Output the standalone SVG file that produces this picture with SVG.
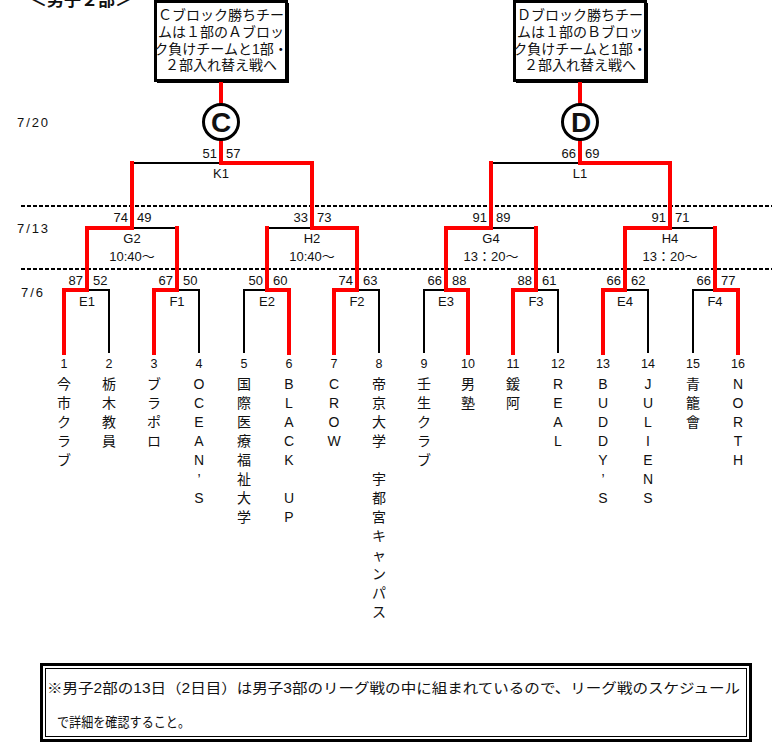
<svg xmlns="http://www.w3.org/2000/svg" width="772" height="744" viewBox="0 0 772 744">
<style>
text{font-family:"Liberation Sans","Noto Sans CJK JP",sans-serif;fill:#111}
.sc{font-size:13px}
.lb{font-size:13px;text-anchor:middle}
.num{font-size:12.5px;text-anchor:middle}
.nm{font-size:14px;text-anchor:middle}
.bx{font-size:14px;text-anchor:middle}
.dt{font-size:13px}
.blk{fill:none;stroke:#000;stroke-width:2}
.red{fill:none;stroke:#f00;stroke-width:4;stroke-linejoin:miter;stroke-linecap:square}
.dash{fill:none;stroke:#000;stroke-width:2;stroke-dasharray:4 2}
</style>
<rect width="772" height="744" fill="#fff"/>
<g id="title"><text x="30" y="6" style="font-size:17px;font-weight:bold">＜男子２部＞</text></g>
<g id="dates">
<text class="dt" x="17" y="127" textLength="31">7/20</text>
<text class="dt" x="17" y="233" textLength="31">7/13</text>
<text class="dt" x="21" y="297" textLength="22">7/6</text>
</g>
<g id="separators">
<line class="dash" x1="21" y1="206" x2="772" y2="206"/>
<line class="dash" x1="21" y1="269" x2="772" y2="269"/>
</g>
<g id="boxC">
<rect x="155.5" y="1.5" width="131" height="79" fill="#fff" stroke="#000" stroke-width="3"/>
<path d="M288 3V82H157" fill="none" stroke="#000" stroke-width="2"/>
<text class="bx" x="221" y="20">Ｃブロック勝ちチー</text>
<text class="bx" x="221" y="37">ムは１部のＡブロッ</text>
<text class="bx" x="221" y="54">ク負けチームと1部・</text>
<text class="bx" x="221" y="70">２部入れ替え戦へ</text>
</g>
<g id="boxD">
<rect x="514.5" y="1.5" width="131" height="79" fill="#fff" stroke="#000" stroke-width="3"/>
<path d="M647 3V82H516" fill="none" stroke="#000" stroke-width="2"/>
<text class="bx" x="580" y="20">Ｄブロック勝ちチー</text>
<text class="bx" x="580" y="37">ムは１部のＢブロッ</text>
<text class="bx" x="580" y="54">ク負けチームと1部・</text>
<text class="bx" x="580" y="70">２部入れ替え戦へ</text>
</g>
<g id="connectors">
<path class="blk" d="M64 353V290H109V353M154 353V290H199V353M244 353V290H289V353M334 353V290H379V353M424 353V290H468V353M513 353V290H558V353M603 353V290H648V353M693 353V290H738V353M87 228H177M267 228H357M446 228H536M625 228H715M132 163H312M491 163H670"/>
<path class="red" d="M64 353V290H87V228H132V163"/>
<path class="red" d="M154 353V290H177V228"/>
<path class="red" d="M289 353V290H267V228"/>
<path class="red" d="M334 353V290H357V228H312V163H221V141"/>
<path class="red" d="M221 103V84"/>
<path class="red" d="M468 353V290H446V228H491V163"/>
<path class="red" d="M513 353V290H536V228"/>
<path class="red" d="M603 353V290H625V228H670V163H580V141"/>
<path class="red" d="M580 103V84"/>
<path class="red" d="M738 353V290H715V228"/>
</g>
<g id="circleC">
<circle cx="221" cy="122" r="17.5" fill="#fff" stroke="#000" stroke-width="3"/>
<text x="221" y="132" style="font-size:28px;font-weight:bold;text-anchor:middle">C</text>
</g>
<g id="circleD">
<circle cx="580" cy="122" r="17.5" fill="#fff" stroke="#000" stroke-width="3"/>
<text x="581" y="132" style="font-size:28px;font-weight:bold;text-anchor:middle">D</text>
</g>
<g id="K1"><text class="sc" x="217" y="158" text-anchor="end">51</text><text class="sc" x="226" y="158">57</text><text class="lb" x="221" y="178">K1</text></g>
<g id="L1"><text class="sc" x="576" y="158" text-anchor="end">66</text><text class="sc" x="585" y="158">69</text><text class="lb" x="580" y="178">L1</text></g>
<g id="G2"><text class="sc" x="128" y="222" text-anchor="end">74</text><text class="sc" x="137" y="222">49</text><text class="lb" x="132" y="243">G2</text><text class="lb" x="132" y="261">10:40～</text></g>
<g id="H2"><text class="sc" x="308" y="222" text-anchor="end">33</text><text class="sc" x="317" y="222">73</text><text class="lb" x="312" y="243">H2</text><text class="lb" x="312" y="261">10:40～</text></g>
<g id="G4"><text class="sc" x="487" y="222" text-anchor="end">91</text><text class="sc" x="496" y="222">89</text><text class="lb" x="491" y="243">G4</text><text class="lb" x="491" y="261">13：20～</text></g>
<g id="H4"><text class="sc" x="666" y="222" text-anchor="end">91</text><text class="sc" x="675" y="222">71</text><text class="lb" x="670" y="243">H4</text><text class="lb" x="670" y="261">13：20～</text></g>
<g id="E1"><text class="sc" x="83" y="285" text-anchor="end">87</text><text class="sc" x="93" y="285">52</text><text class="lb" x="87" y="306">E1</text></g>
<g id="F1"><text class="sc" x="173" y="285" text-anchor="end">67</text><text class="sc" x="183" y="285">50</text><text class="lb" x="177" y="306">F1</text></g>
<g id="E2"><text class="sc" x="263" y="285" text-anchor="end">50</text><text class="sc" x="273" y="285">60</text><text class="lb" x="267" y="306">E2</text></g>
<g id="F2"><text class="sc" x="353" y="285" text-anchor="end">74</text><text class="sc" x="363" y="285">63</text><text class="lb" x="357" y="306">F2</text></g>
<g id="E3"><text class="sc" x="442" y="285" text-anchor="end">66</text><text class="sc" x="452" y="285">88</text><text class="lb" x="446" y="306">E3</text></g>
<g id="F3"><text class="sc" x="532" y="285" text-anchor="end">88</text><text class="sc" x="542" y="285">61</text><text class="lb" x="536" y="306">F3</text></g>
<g id="E4"><text class="sc" x="621" y="285" text-anchor="end">66</text><text class="sc" x="631" y="285">62</text><text class="lb" x="625" y="306">E4</text></g>
<g id="F4"><text class="sc" x="711" y="285" text-anchor="end">66</text><text class="sc" x="721" y="285">77</text><text class="lb" x="715" y="306">F4</text></g>
<g id="team1"><text class="num" x="64" y="368">1</text><text class="nm" x="64" y="389">今</text><text class="nm" x="64" y="408">市</text><text class="nm" x="64" y="427">ク</text><text class="nm" x="64" y="446">ラ</text><text class="nm" x="64" y="465">ブ</text></g>
<g id="team2"><text class="num" x="109" y="368">2</text><text class="nm" x="109" y="389">栃</text><text class="nm" x="109" y="408">木</text><text class="nm" x="109" y="427">教</text><text class="nm" x="109" y="446">員</text></g>
<g id="team3"><text class="num" x="154" y="368">3</text><text class="nm" x="154" y="389">ブ</text><text class="nm" x="154" y="408">ラ</text><text class="nm" x="154" y="427">ポ</text><text class="nm" x="154" y="446">ロ</text></g>
<g id="team4"><text class="num" x="199" y="368">4</text><text class="nm" x="199" y="389">O</text><text class="nm" x="199" y="408">C</text><text class="nm" x="199" y="427">E</text><text class="nm" x="199" y="446">A</text><text class="nm" x="199" y="465">N</text><text class="nm" x="199" y="484">’</text><text class="nm" x="199" y="503">S</text></g>
<g id="team5"><text class="num" x="244" y="368">5</text><text class="nm" x="244" y="389">国</text><text class="nm" x="244" y="408">際</text><text class="nm" x="244" y="427">医</text><text class="nm" x="244" y="446">療</text><text class="nm" x="244" y="465">福</text><text class="nm" x="244" y="484">祉</text><text class="nm" x="244" y="503">大</text><text class="nm" x="244" y="522">学</text></g>
<g id="team6"><text class="num" x="289" y="368">6</text><text class="nm" x="289" y="389">B</text><text class="nm" x="289" y="408">L</text><text class="nm" x="289" y="427">A</text><text class="nm" x="289" y="446">C</text><text class="nm" x="289" y="465">K</text><text class="nm" x="289" y="503">U</text><text class="nm" x="289" y="522">P</text></g>
<g id="team7"><text class="num" x="334" y="368">7</text><text class="nm" x="334" y="389">C</text><text class="nm" x="334" y="408">R</text><text class="nm" x="334" y="427">O</text><text class="nm" x="334" y="446">W</text></g>
<g id="team8"><text class="num" x="379" y="368">8</text><text class="nm" x="379" y="389">帝</text><text class="nm" x="379" y="408">京</text><text class="nm" x="379" y="427">大</text><text class="nm" x="379" y="446">学</text><text class="nm" x="379" y="484">宇</text><text class="nm" x="379" y="503">都</text><text class="nm" x="379" y="522">宮</text><text class="nm" x="379" y="541">キ</text><text class="nm" x="379" y="560">ャ</text><text class="nm" x="379" y="579">ン</text><text class="nm" x="379" y="598">パ</text><text class="nm" x="379" y="617">ス</text></g>
<g id="team9"><text class="num" x="424" y="368">9</text><text class="nm" x="424" y="389">壬</text><text class="nm" x="424" y="408">生</text><text class="nm" x="424" y="427">ク</text><text class="nm" x="424" y="446">ラ</text><text class="nm" x="424" y="465">ブ</text></g>
<g id="team10"><text class="num" x="468" y="368">10</text><text class="nm" x="468" y="389">男</text><text class="nm" x="468" y="408">塾</text></g>
<g id="team11"><text class="num" x="513" y="368">11</text><text class="nm" x="513" y="389">鍰</text><text class="nm" x="513" y="408">阿</text></g>
<g id="team12"><text class="num" x="558" y="368">12</text><text class="nm" x="558" y="389">R</text><text class="nm" x="558" y="408">E</text><text class="nm" x="558" y="427">A</text><text class="nm" x="558" y="446">L</text></g>
<g id="team13"><text class="num" x="603" y="368">13</text><text class="nm" x="603" y="389">B</text><text class="nm" x="603" y="408">U</text><text class="nm" x="603" y="427">D</text><text class="nm" x="603" y="446">D</text><text class="nm" x="603" y="465">Y</text><text class="nm" x="603" y="484">’</text><text class="nm" x="603" y="503">S</text></g>
<g id="team14"><text class="num" x="648" y="368">14</text><text class="nm" x="648" y="389">J</text><text class="nm" x="648" y="408">U</text><text class="nm" x="648" y="427">L</text><text class="nm" x="648" y="446">I</text><text class="nm" x="648" y="465">E</text><text class="nm" x="648" y="484">N</text><text class="nm" x="648" y="503">S</text></g>
<g id="team15"><text class="num" x="693" y="368">15</text><text class="nm" x="693" y="389">青</text><text class="nm" x="693" y="408">籠</text><text class="nm" x="693" y="427">會</text></g>
<g id="team16"><text class="num" x="738" y="368">16</text><text class="nm" x="738" y="389">N</text><text class="nm" x="738" y="408">O</text><text class="nm" x="738" y="427">R</text><text class="nm" x="738" y="446">T</text><text class="nm" x="738" y="465">H</text></g>
<g id="note">
<rect x="41.5" y="664.5" width="709" height="76" fill="none" stroke="#000" stroke-width="3"/>
<rect x="45.5" y="668.5" width="701" height="68" fill="none" stroke="#000" stroke-width="1"/>
<text x="47" y="693" style="font-size:14px" textLength="693" lengthAdjust="spacingAndGlyphs">※男子2部の13日（2日目）は男子3部のリーグ戦の中に組まれているので、リーグ戦のスケジュール</text>
<text x="57" y="727" style="font-size:14px" textLength="133" lengthAdjust="spacingAndGlyphs">で詳細を確認すること。</text>
</g>
</svg>
